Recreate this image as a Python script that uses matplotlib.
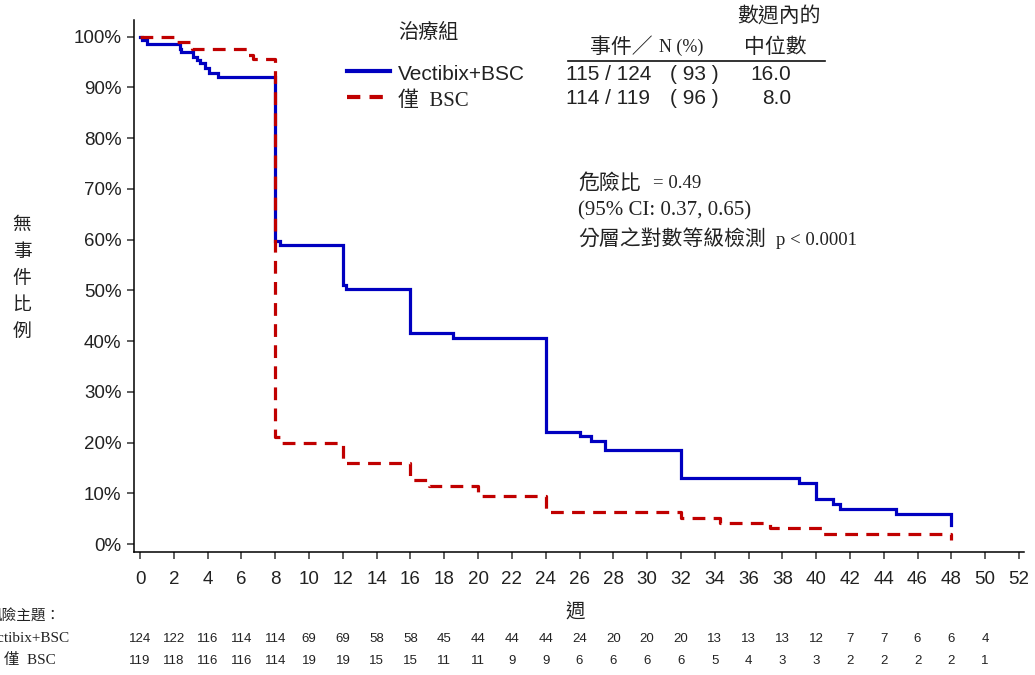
import matplotlib.pyplot as plt
from matplotlib.lines import Line2D

# Kaplan-Meier steps (weeks, % event-free)
vec_t = [0, 0.1, 0.4, 2.35, 2.45, 3.15, 3.35, 3.55, 3.85, 4.05, 4.6, 8.0, 8.3,
         12.0, 12.2, 16.0, 18.5, 24.0, 26.0, 26.7, 27.5, 32.0, 39.0, 40.0, 41.0,
         41.4, 44.7, 48.0]
vec_s = [100, 99.3, 98.6, 97.6, 96.9, 96.1, 95.4, 94.8, 93.8, 92.9, 92.0, 59.8,
         58.9, 51.0, 50.3, 41.6, 40.6, 22.1, 21.3, 20.4, 18.5, 13.0, 12.1, 8.9,
         8.0, 6.9, 5.9, 3.7]

bsc_t = [0, 2.0, 3.05, 6.4, 6.7, 8.0, 8.3, 12.0, 16.0, 17.1, 20.0, 24.0, 32.0,
         34.3, 37.3, 40.4, 48.0]
bsc_s = [100, 99.0, 97.5, 96.4, 95.7, 21.2, 20.0, 15.9, 12.6, 11.5, 9.5, 6.3,
         5.2, 4.2, 3.15, 2.0, 0.9]

weeks = list(range(0, 53, 2))
risk_weeks = list(range(0, 51, 2))
vec_risk = [124, 122, 116, 114, 114, 69, 69, 58, 58, 45, 44, 44, 44, 24, 20, 20,
            20, 13, 13, 13, 12, 7, 7, 6, 6, 4]
bsc_risk = [119, 118, 116, 116, 114, 19, 19, 15, 15, 11, 11, 9, 9, 6, 6, 6, 6, 5,
            4, 3, 3, 2, 2, 2, 2, 1]
yticks = list(range(0, 101, 10))

BLUE = "#0000c0"
RED = "#c00000"
CJK = "Noto Sans CJK TC"
SANS = ["Liberation Sans", CJK]
SERIF = ["Liberation Serif", CJK]
TXT = "#222222"

W, H = 1035, 675
fig = plt.figure(figsize=(W / 100, H / 100), dpi=100)
ax = fig.add_axes([134 / W, 1 - 551.7 / H, (1024 - 134) / W, (551.7 - 20) / H])


def put(x, y, s, size=15, family=SANS, ha="left", va="center", **kw):
    fig.text(x / W, 1 - y / H, s, fontsize=size, family=family, ha=ha, va=va,
             color=TXT, **kw)


ax.step(vec_t, vec_s, where="post", color=BLUE, lw=2.3, solid_joinstyle="miter")
ax.step(bsc_t, bsc_s, where="post", color=RED, lw=2.3, dashes=(4, 2.6))

ax.set_xlim(-0.36, 52.3)
ax.set_ylim(-1.5, 103.3)
ax.set_xticks(weeks)
ax.set_xticklabels([str(w) for w in weeks], family=SANS, fontsize=13.5)
ax.set_yticks(yticks)
ax.set_yticklabels([f"{v}%" for v in yticks], family=SANS, fontsize=13.5)
ax.tick_params(axis="both", direction="out", length=5, width=1.1, colors="#333333",
               labelcolor=TXT)
ax.tick_params(axis="x", pad=9)
ax.tick_params(axis="y", pad=4)
for side in ["top", "right"]:
    ax.spines[side].set_visible(False)
for side in ["left", "bottom"]:
    ax.spines[side].set_linewidth(1.1)

# y label, stacked characters
put(22, 278, "\n".join("無事件比例"), size=13.5, family=[CJK], ha="center",
    linespacing=1.35)
put(575, 612, "週", size=14, family=[CJK], ha="center")

# legend + table
put(398, 33, "治療組", size=14.5, family=[CJK])
fig.add_artist(Line2D([347 / W, 390 / W], [1 - 71 / H, 1 - 71 / H], color=BLUE, lw=3))
fig.add_artist(Line2D([347 / W, 390 / W], [1 - 97 / H, 1 - 97 / H], color=RED, lw=3,
                      dashes=(3.2, 2.2)))
put(398, 74, "Vectibix+BSC", size=15)
put(398, 101, "僅  BSC", size=15, family=SERIF)

put(590, 47, "事件／", size=15, family=[CJK])
put(659, 47, "N (%)", size=13, family=SERIF)
put(779, 17, "數週內的", size=15, family=[CJK], ha="center")
put(775, 47, "中位數", size=15, family=[CJK], ha="center")
fig.add_artist(Line2D([568 / W, 825 / W], [1 - 61 / H, 1 - 61 / H], color="#111111",
                      lw=1.2))

put(566, 75, "115 / 124", size=15)
put(670, 75, "( 93 )", size=15)
put(791, 75, "16.0", size=15, ha="right")
put(566, 99, "114 / 119", size=15)
put(670, 99, "( 96 )", size=15)
put(791, 99, "8.0", size=15, ha="right")

# hazard ratio text
put(578, 183, "危險比", size=15, family=[CJK])
put(653, 184, "= 0.49", size=13.5, family=SERIF)
put(578, 211, "(95% CI: 0.37, 0.65)", size=15, family=SERIF)
put(578, 239, "分層之對數等級檢測", size=15, family=[CJK])
put(776, 240, "p < 0.0001", size=13.5, family=SERIF)

# number at risk table (labels run off the left edge as in the source)
put(-12, 617, "風險主題：", size=10.5, family=[CJK])
put(-18, 638, "Vectibix+BSC", size=11, family=SERIF)
put(4, 660, "僅  BSC", size=11, family=SERIF)
for wk, n1, n2 in zip(risk_weeks, vec_risk, bsc_risk):
    xp = ax.transData.transform((wk, 0))[0] / fig.dpi / fig.get_figwidth()
    fig.text(xp, 1 - 639 / H, str(n1), fontsize=9.5, family=SANS, ha="center",
             va="center", color=TXT)
    fig.text(xp, 1 - 661 / H, str(n2), fontsize=9.5, family=SANS, ha="center",
             va="center", color=TXT)

fig.savefig("out.png", dpi=100)
